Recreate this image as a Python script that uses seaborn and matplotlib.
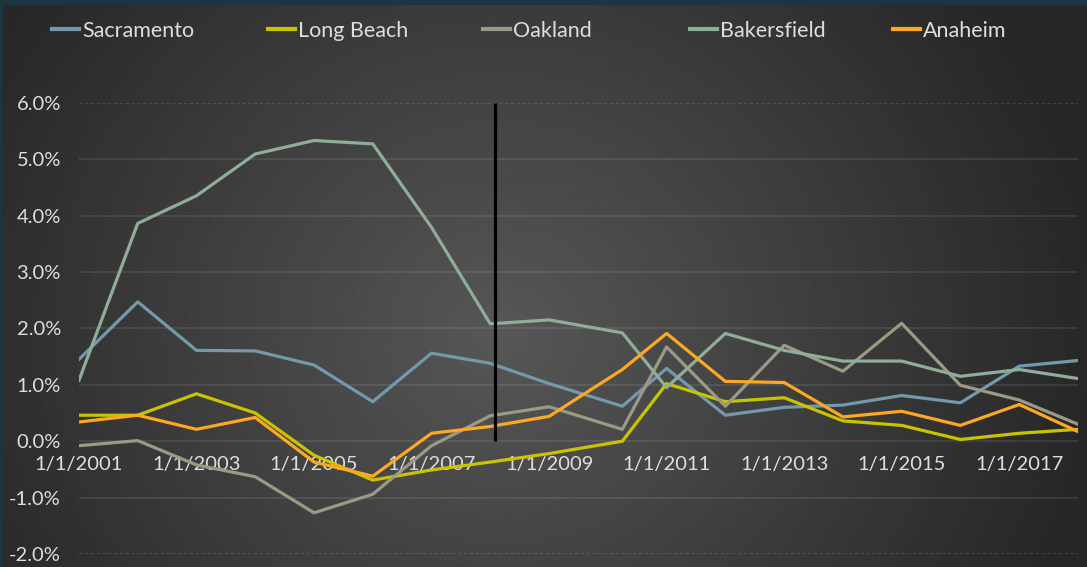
import numpy as np
import pandas as pd
import seaborn as sns
import matplotlib.pyplot as plt
from matplotlib.lines import Line2D
from matplotlib.ticker import FuncFormatter

# annual growth, percent
dates = ["2001-01-01", "2002-01-01", "2003-01-01", "2004-01-01", "2005-01-01",
         "2006-01-01", "2007-01-01", "2008-01-01", "2009-01-01", "2010-04-01",
         "2011-01-01", "2012-01-01", "2013-01-01", "2014-01-01", "2015-01-01",
         "2016-01-01", "2017-01-01", "2018-01-01"]
sacramento = [1.45, 2.47, 1.61, 1.60, 1.35, 0.70, 1.56, 1.38, 1.02, 0.62,
              1.29, 0.46, 0.60, 0.64, 0.81, 0.68, 1.33, 1.43]
long_beach = [0.46, 0.46, 0.84, 0.50, -0.25, -0.69, -0.51, -0.37, -0.22, 0.00,
              1.02, 0.70, 0.77, 0.36, 0.28, 0.03, 0.14, 0.21]
oakland = [-0.08, 0.01, -0.42, -0.63, -1.27, -0.94, -0.08, 0.45, 0.61, 0.21,
           1.67, 0.62, 1.70, 1.24, 2.09, 0.99, 0.73, 0.30]
bakersfield = [1.08, 3.86, 4.35, 5.09, 5.33, 5.27, 3.79, 2.08, 2.15, 1.92,
               0.95, 1.91, 1.61, 1.42, 1.42, 1.15, 1.27, 1.11]
anaheim = [0.34, 0.46, 0.21, 0.42, -0.37, -0.62, 0.14, 0.26, 0.44, 1.27,
           1.91, 1.06, 1.04, 0.43, 0.53, 0.28, 0.65, 0.17]

cities = ["Sacramento", "Long Beach", "Oakland", "Bakersfield", "Anaheim"]
colors = ["#7399ab", "#c9c400", "#9c9a84", "#8fae98", "#fca824"]
tick_years = [2001, 2003, 2005, 2007, 2009, 2011, 2013, 2015, 2017]
marker_date = "2008-02-01"
marker_low, marker_high = 0.0, 6.0

series = [sacramento, long_beach, oakland, bakersfield, anaheim]
df = pd.concat([pd.DataFrame({"date": pd.to_datetime(dates), "value": v, "city": c})
                for c, v in zip(cities, series)], ignore_index=True)

plt.rcParams["font.family"] = ["Lato", "DejaVu Sans"]
text_color = "#dedede"

W, H = 1087, 567
fig = plt.figure(figsize=(W / 100, H / 100), dpi=100)
fig.patch.set_facecolor("#1d3442")

# radial grey background
bg = fig.add_axes([3 / W, 0, 1 - 3 / W, 1 - 5 / H])
yy, xx = np.mgrid[0:H, 0:W]
r = np.sqrt(((xx - 500) / 600.0) ** 2 + ((yy - 330) / 560.0) ** 2)
r = np.clip(r, 0, 1)
shade = (0x57 + (0x27 - 0x57) * r) / 255.0
bg.imshow(shade, cmap="gray", vmin=0, vmax=1, aspect="auto", interpolation="bilinear")
bg.axis("off")

ax = fig.add_axes([79 / W, 13 / H, 999 / W, (554 - 102.7) / H])
ax.set_zorder(1)
ax.patch.set_alpha(0)

sns.lineplot(data=df, x="date", y="value", hue="city", hue_order=cities,
             palette=dict(zip(cities, colors)), linewidth=2.3, ax=ax, legend=False)
ax.vlines(pd.Timestamp(marker_date), marker_low, marker_high, color="black", lw=2.3, zorder=5)

ax.set_xlim(pd.Timestamp("2001-01-01"), pd.Timestamp("2018-01-01"))
ax.set_ylim(-2, 6)
ax.set_yticks(range(-2, 7))
ax.yaxis.set_major_formatter(FuncFormatter(lambda v, p: f"{v:.1f}%"))
ax.set_xticks([pd.Timestamp(f"{y}-01-01") for y in tick_years])
ax.set_xticklabels([f"1/1/{y}" for y in tick_years])
ax.set_xlabel("")
ax.set_ylabel("")
sns.despine(ax=ax, left=True, bottom=True)
ax.spines["bottom"].set_position(("data", 0))
ax.tick_params(axis="both", length=0, labelsize=14.5, colors=text_color)
ax.tick_params(axis="x", pad=11)
ax.tick_params(axis="y", pad=13)

ax.grid(axis="y", color="white", alpha=0.1, lw=1.2)
ax.grid(axis="x", visible=False)
glines = ax.get_ygridlines()
for g in (glines[0], glines[-1]):
    g.set_linestyle((0, (2, 1.5)))
    g.set_alpha(0.15)

# legend entries sit at fixed slots across the top, like the original
legend_x = [52, 268, 483, 690, 893]
for c, name, lx in zip(colors, cities, legend_x):
    fig.legend([Line2D([], [], color=c, lw=3)], [name], loc="center left",
               bbox_to_anchor=(lx / W, 1 - 31 / H), frameon=False, fontsize=15.5,
               handlelength=1.25, handletextpad=0.15, labelcolor=text_color,
               borderpad=0, borderaxespad=0)

fig.savefig("out.png", dpi=100, facecolor=fig.get_facecolor())
